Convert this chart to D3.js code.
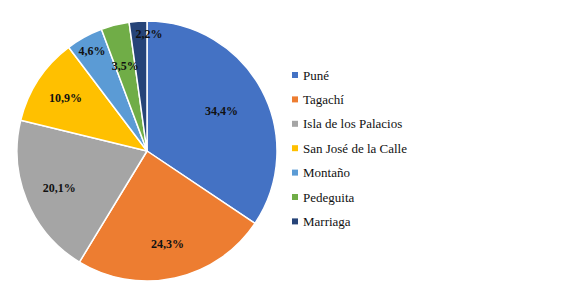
<!DOCTYPE html>
<html>
<head>
<meta charset="utf-8">
<script src="https://cdn.jsdelivr.net/npm/d3@7"></script>
<style>
  body { margin: 0; background: #fff; }
  svg { display: block; }
</style>
</head>
<body>
<svg width="579" height="283"></svg>
<script>
// chart data
var categories = ["Puné", "Tagachí", "Isla de los Palacios", "San José de la Calle", "Montaño", "Pedeguita", "Marriaga"];
var shares = [34.4, 24.3, 20.1, 10.9, 4.6, 3.5, 2.2];
var colors = ["#4472C4", "#ED7D31", "#A5A5A5", "#FFC000", "#5B9BD5", "#70AD47", "#264478"];

// label distance from centre, as a fraction of the radius (excel "best fit" look)
var labelRadius = [0.65, 0.73, 0.73, 0.75, 0.88, 0.68, 0.9];

var font = "Liberation Serif";

var svg = d3.select("svg"),
    cx = 147, cy = 151, radius = 130;

var g = svg.append("g").attr("transform", "translate(" + cx + "," + cy + ")");

var pie = d3.pie().sort(null).value(function (d) { return d; });
var arcs = pie(shares);

var arc = d3.arc().innerRadius(0).outerRadius(radius);

g.selectAll("path.slice")
    .data(arcs)
    .enter().append("path")
    .attr("class", "slice")
    .attr("d", arc)
    .attr("fill", function (d, i) { return colors[i]; })
    .attr("stroke", "#fff")
    .attr("stroke-width", 1.5)
    .attr("stroke-linejoin", "round");

g.selectAll("text.pct")
    .data(arcs)
    .enter().append("text")
    .attr("class", "pct")
    .attr("transform", function (d, i) {
        var a = (d.startAngle + d.endAngle) / 2,
            r = radius * labelRadius[i],
            x = Math.sin(a) * r,
            y = -Math.cos(a) * r;
        if (i === 6) x += 10; // marriaga label sits to the right of its thin slice
        return "translate(" + x + "," + y + ")";
    })
    .attr("text-anchor", "middle")
    .attr("dy", "0.35em")
    .attr("font-family", font)
    .attr("font-weight", "bold")
    .attr("font-size", 12)
    .attr("fill", "#111")
    .text(function (d) { return d.data.toFixed(1).replace(".", ",") + "%"; });

// legend
var legend = svg.append("g").attr("transform", "translate(292,75)");

var item = legend.selectAll("g")
    .data(categories)
    .enter().append("g")
    .attr("transform", function (d, i) { return "translate(0," + (i * 24.4) + ")"; });

item.append("rect")
    .attr("x", 0)
    .attr("y", -3)
    .attr("width", 6)
    .attr("height", 6)
    .attr("fill", function (d, i) { return colors[i]; });

item.append("text")
    .attr("x", 11)
    .attr("dy", "0.35em")
    .attr("font-family", font)
    .attr("font-size", 13)
    .attr("fill", "#111")
    .text(function (d) { return d; });
</script>
</body>
</html>
